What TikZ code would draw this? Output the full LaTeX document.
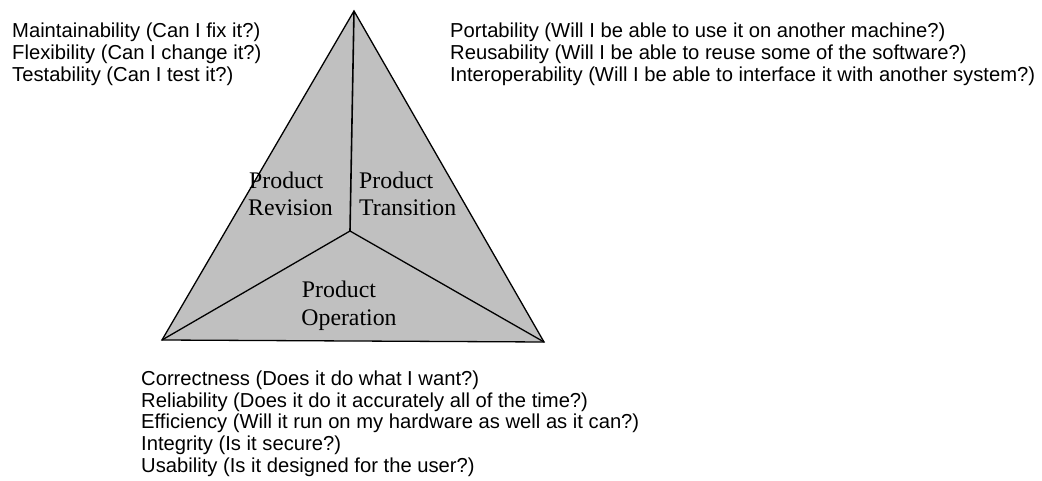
\documentclass[tikz,border=0pt]{standalone}
\usepackage{fontspec}
\setmainfont{Liberation Sans}
\newfontfamily\timesf{Liberation Serif}
\begin{document}
\begin{tikzpicture}[x=1pt,y=-1pt,
  qtext/.style={anchor=base west,inner sep=0pt,font=\fontsize{20.2}{22}\selectfont},
  ptext/.style={inner sep=0pt,align=center,font=\timesf\fontsize{23.8}{26.5}\selectfont},
  edge/.style={line width=1.6pt,black}]
\useasboundingbox (0,0) rectangle (1042,481);
\coordinate (T) at (354,11);
\coordinate (L) at (162,340);
\coordinate (R) at (544,342);
\coordinate (C) at (350,231);
\fill[fill={rgb,255:red,192;green,192;blue,192}] (T) -- (R) -- (L) -- cycle;
\draw[line width=1.3pt,line join=miter] (T) -- (R) -- (L) -- cycle;
\draw[edge] (C) -- (T);
\draw[line width=1.3pt] (C) -- (L);
\draw[line width=1.3pt] (C) -- (R);

\node[ptext,anchor=base west] (rev1) at (249,189) {Product};
\node[ptext,anchor=base west] (rev2) at (248,216) {Revision};
\node[ptext,anchor=base west] (tr1) at (359,189) {Product};
\node[ptext,anchor=base west] (tr2) at (359,216) {Transition};
\node[ptext,anchor=base] (op1) at (339,298) {Product};
\node[ptext,anchor=base] (op2) at (349,325) {Operation};

\node[qtext] (m) at (12,38) {Maintainability (Can I fix it?)};
\node[qtext] (f) at (12,60) {Flexibility (Can I change it?)};
\node[qtext] (t) at (12,82) {Testability (Can I test it?)};

\node[qtext] (p) at (450,38) {Portability (Will I be able to use it on another machine?)};
\node[qtext] (r) at (450,60) {Reusability (Will I be able to reuse some of the software?)};
\node[qtext] (i) at (450,82) {Interoperability (Will I be able to interface it with another system?)};

\node[qtext] (c) at (141,385) {Correctness (Does it do what I want?)};
\node[qtext] (rl) at (141,407) {Reliability (Does it do it accurately all of the time?)};
\node[qtext] (e) at (141,428.5) {Efficiency (Will it run on my hardware as well as it can?)};
\node[qtext] (ig) at (141,450) {Integrity (Is it secure?)};
\node[qtext] (u) at (141,472) {Usability (Is it designed for the user?)};
\end{tikzpicture}
\end{document}
